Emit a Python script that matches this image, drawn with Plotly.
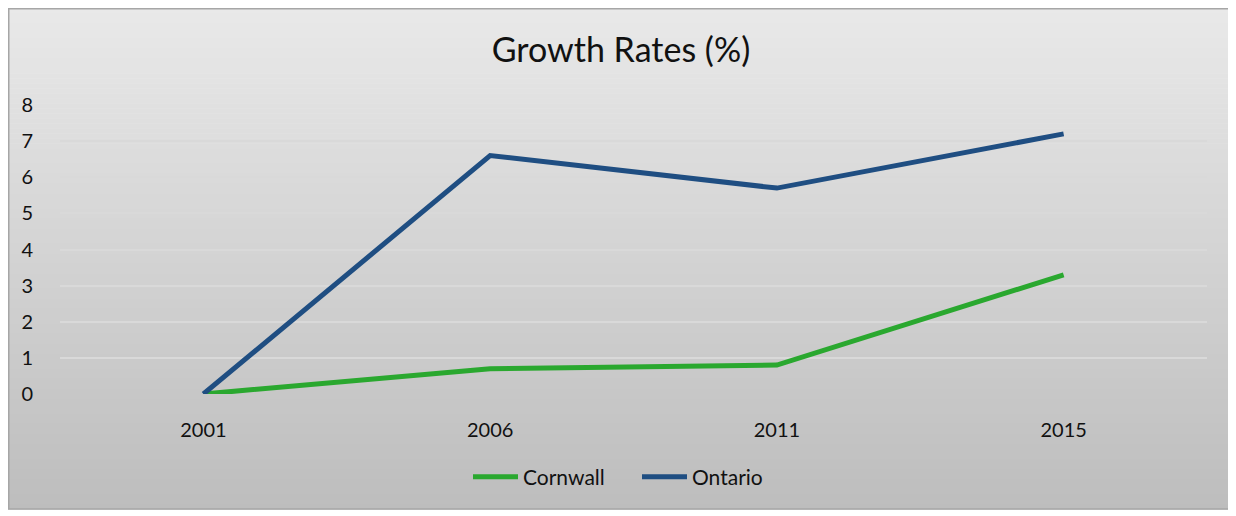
import plotly.graph_objects as go

years = ["2001", "2006", "2011", "2015"]
cornwall = [0, 0.7, 0.8, 3.3]
ontario = [0, 6.6, 5.7, 7.2]
y_ticks = [0, 1, 2, 3, 4, 5, 6, 7, 8]

W, H = 1236, 516
OFF = 8  # page body offset
L, R, T, B = 60 - OFF, 29 + OFF, 105 - OFF, 122 + OFF
PW, PH = W - L - R, H - T - B


def px_x(px):
    return (px - OFF - L) / PW


def px_y(py):
    return (H - B - (py - OFF)) / PH


FONT = "Lato"

fig = go.Figure()
fig.add_trace(go.Scatter(x=years, y=cornwall, mode="lines", name="Cornwall",
                         line=dict(color="#2aa82f", width=5)))
fig.add_trace(go.Scatter(x=years, y=ontario, mode="lines", name="Ontario",
                         line=dict(color="#1f4e82", width=5)))

# gradient background via horizontal strips
shapes = []
top, bot, left, right = 8, 509, 8, 1230
n = 100
c0, c1 = 233, 189
for i in range(n):
    y0 = top + (bot - top) * i / n
    y1 = top + (bot - top) * (i + 1) / n + 0.6
    c = round(c0 + (c1 - c0) * (i + 0.5) / n)
    col = f"rgb({c},{c},{c})"
    shapes.append(dict(type="rect", xref="paper", yref="paper", layer="below",
                       x0=px_x(left), x1=px_x(right), y0=px_y(y1), y1=px_y(y0),
                       fillcolor=col, line=dict(width=0)))
shapes.append(dict(type="rect", xref="paper", yref="paper", layer="above",
                   x0=px_x(left + 0.75), x1=px_x(right), y0=px_y(bot), y1=px_y(top + 0.75),
                   fillcolor="rgba(0,0,0,0)", line=dict(color="#a6a6a6", width=1.5)))

fig.update_layout(
    width=W, height=H,
    margin=dict(l=L, r=R, t=T, b=B),
    paper_bgcolor="white",
    plot_bgcolor="rgba(0,0,0,0)",
    shapes=shapes,
    title=dict(text="Growth Rates (%)", x=px_x(621), xref="paper", xanchor="center",
               y=1 - (50 - OFF) / H, yanchor="middle",
               font=dict(family=FONT, size=34, color="#111111")),
    xaxis=dict(type="category", range=[-0.5, 3.5], showgrid=False, zeroline=False,
               showline=False, ticks="outside", ticklen=18, tickcolor="rgba(0,0,0,0)",
               tickfont=dict(family=FONT, size=20, color="#111111")),
    yaxis=dict(range=[0, 8], tickvals=y_ticks, showgrid=True, gridcolor="#d9d9d9",
               gridwidth=1.5, zeroline=False, showline=False, ticks="outside",
               ticklen=22, tickcolor="rgba(0,0,0,0)",
               tickfont=dict(family=FONT, size=20, color="#111111")),
    legend=dict(orientation="h", x=px_x(468), xanchor="left", xref="paper",
                y=px_y(477), yanchor="middle", bgcolor="rgba(0,0,0,0)",
                font=dict(family=FONT, size=21, color="#111111"),
                itemwidth=45, entrywidth=109, entrywidthmode="pixels",
                tracegroupgap=0),
    showlegend=True,
)

fig.write_html("out.html")
